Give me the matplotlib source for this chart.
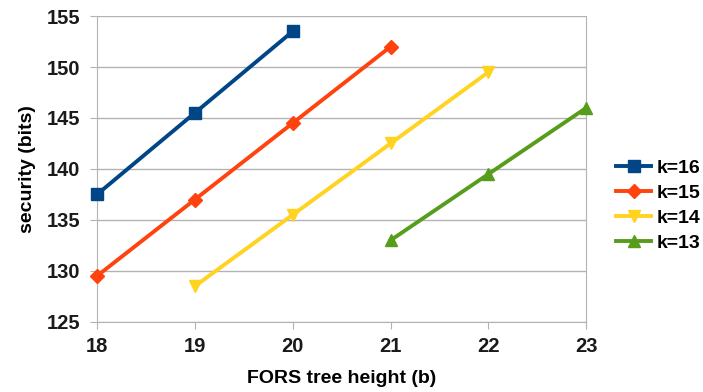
import matplotlib
matplotlib.use("Agg")
import matplotlib.pyplot as plt
import matplotlib as mpl

mpl.rcParams["font.family"] = ["Liberation Sans", "DejaVu Sans"]
mpl.rcParams["font.weight"] = "bold"

# series data
x_k16 = [18, 19, 20]
y_k16 = [137.5, 145.5, 153.5]
x_k15 = [18, 19, 20, 21]
y_k15 = [129.5, 137.0, 144.5, 152.0]
x_k14 = [19, 20, 21, 22]
y_k14 = [128.5, 135.5, 142.5, 149.5]
x_k13 = [21, 22, 23]
y_k13 = [133.0, 139.5, 146.0]

labels = ["k=16", "k=15", "k=14", "k=13"]
x_ticks = [18, 19, 20, 21, 22, 23]
y_ticks = [125, 130, 135, 140, 145, 150, 155]

colors = ["#004586", "#ff420e", "#ffd320", "#579d1c"]
markers = ["s", "D", "v", "^"]
msizes = [9, 7, 9, 9]

fig = plt.figure(figsize=(7.03, 3.92), dpi=100)
ax = fig.add_axes([0.138, 0.179, 0.696, 0.780])

series = [(x_k16, y_k16), (x_k15, y_k15), (x_k14, y_k14), (x_k13, y_k13)]
for (xs, ys), lab, c, m, ms in zip(series, labels, colors, markers, msizes):
    ax.plot(xs, ys, color=c, marker=m, markersize=ms, linewidth=2.8,
            label=lab, clip_on=False, zorder=3)

ax.set_xlim(18, 23)
ax.set_ylim(125, 155)
ax.set_xticks(x_ticks)
ax.set_yticks(y_ticks)
ax.grid(axis="y", color="#b3b3b3", linewidth=1)
ax.set_axisbelow(True)
for side in ["left", "right", "top", "bottom"]:
    ax.spines[side].set_color("#b3b3b3")
ax.spines["top"].set_visible(False)
ax.tick_params(direction="out", length=5, color="#b3b3b3", labelsize=14.5,
               labelcolor="#1a1a1a")
ax.tick_params(axis="y", pad=7)
ax.tick_params(axis="x", pad=6)

ax.set_xlabel("FORS tree height (b)", fontsize=14, fontweight="bold",
              labelpad=10)
ax.set_ylabel("security (bits)", fontsize=14, fontweight="bold",
              labelpad=8)

ax.legend(loc="center left", bbox_to_anchor=(1.045, 0.38), frameon=False,
          fontsize=14, handlelength=1.8, handletextpad=0.3,
          labelspacing=0.38, borderaxespad=0)

fig.savefig("out.png", dpi=100)
